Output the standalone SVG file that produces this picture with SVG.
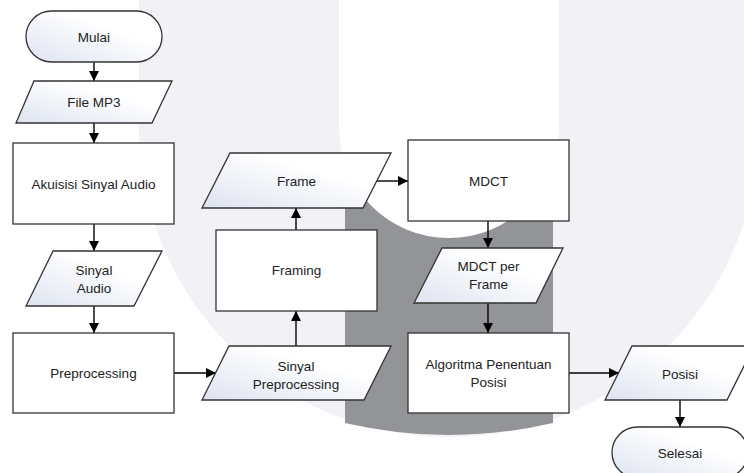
<svg xmlns="http://www.w3.org/2000/svg" width="744" height="473" viewBox="0 0 744 473">
<style>
.bx{fill:#ffffff;stroke:#333333;stroke-width:1.3}
.io{fill:url(#g);stroke:#333333;stroke-width:1.3}
.t{font-family:"Liberation Sans",Arial,sans-serif;font-size:13.5px;fill:#222222;text-anchor:middle}
.c{fill:none;stroke:#000000;stroke-width:1.4;marker-end:url(#ah)}
</style>
<defs>
<linearGradient id="g" x1="0" y1="1" x2="1" y2="0">
<stop offset="0" stop-color="#dde3f0"/>
<stop offset="0.65" stop-color="#ffffff"/>
</linearGradient>
<marker id="ah" viewBox="0 0 10 10" refX="10" refY="5" markerWidth="10" markerHeight="10" markerUnits="userSpaceOnUse" orient="auto">
<path d="M0,0 L10,5 L0,10 z" fill="#000000"/>
</marker>
</defs>
<rect width="744" height="473" fill="#ffffff"/>
<g id="watermark">
<path d="M139,0 V127 A310,310 0 0 0 759,127 V0 Z" fill="#f1f1f6"/>
<path d="M345,100 V423 Q449,447 553,423 V100 Z" fill="#939497"/>
<path d="M339,0 V128 A110,110 0 0 0 559,128 V0 Z" fill="#ffffff"/>
</g>
<g id="connectors">
<path class="c" d="M94,62 V81"/>
<path class="c" d="M94,123 V143"/>
<path class="c" d="M94,224 V251"/>
<path class="c" d="M94,306 V333"/>
<path class="c" d="M174,373 H216"/>
<path class="c" d="M296,346 V311"/>
<path class="c" d="M296,230 V208"/>
<path class="c" d="M377,181 H408"/>
<path class="c" d="M488,221 V248"/>
<path class="c" d="M488,303 V333"/>
<path class="c" d="M569,373 H619"/>
<path class="c" d="M680,400 V427"/>
</g>
<g id="mulai">
<rect class="io" x="26" y="11" width="136" height="51" rx="25.5"/>
<text class="t" x="94" y="41.5">Mulai</text>
</g>
<g id="file-mp3">
<path class="io" d="M34,81 H172 L152,123 H16 Z"/>
<text class="t" x="94" y="107">File MP3</text>
</g>
<g id="akuisisi">
<rect class="bx" x="13" y="143" width="161" height="81"/>
<text class="t" x="93.5" y="189">Akuisisi Sinyal Audio</text>
</g>
<g id="sinyal-audio">
<path class="io" d="M53,251 H162 L134,306 H26 Z"/>
<text class="t" x="94" y="275">Sinyal</text>
<text class="t" x="94" y="293">Audio</text>
</g>
<g id="preprocessing">
<rect class="bx" x="13" y="333" width="161" height="80"/>
<text class="t" x="93.5" y="378">Preprocessing</text>
</g>
<g id="sinyal-preprocessing">
<path class="io" d="M229,346 H391 L364,400 H202 Z"/>
<text class="t" x="296" y="371">Sinyal</text>
<text class="t" x="296" y="389">Preprocessing</text>
</g>
<g id="framing">
<rect class="bx" x="216" y="230" width="161" height="81"/>
<text class="t" x="296.5" y="275">Framing</text>
</g>
<g id="frame">
<path class="io" d="M230,153 H391 L363,208 H202 Z"/>
<text class="t" x="296.5" y="186">Frame</text>
</g>
<g id="mdct">
<rect class="bx" x="408" y="140" width="161" height="81"/>
<text class="t" x="488.5" y="186">MDCT</text>
</g>
<g id="mdct-per-frame">
<path class="io" d="M442,248 H563 L536,303 H414 Z"/>
<text class="t" x="488.5" y="271">MDCT per</text>
<text class="t" x="488.5" y="289">Frame</text>
</g>
<g id="algoritma">
<rect class="bx" x="408" y="333" width="161" height="80"/>
<text class="t" x="488.5" y="369">Algoritma Penentuan</text>
<text class="t" x="488.5" y="387">Posisi</text>
</g>
<g id="posisi">
<path class="io" d="M632,346 H754 L727,400 H605 Z"/>
<text class="t" x="680" y="379">Posisi</text>
</g>
<g id="selesai">
<rect class="io" x="612" y="427" width="136" height="51" rx="25.5"/>
<text class="t" x="680" y="458">Selesai</text>
</g>
</svg>
